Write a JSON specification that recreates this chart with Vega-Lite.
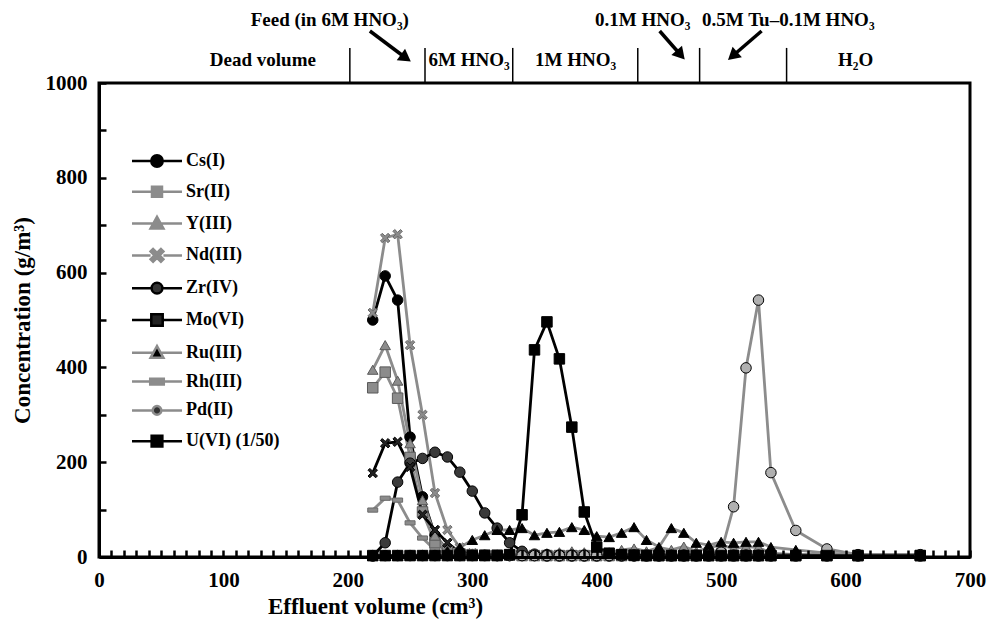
{
  "$schema": "https://vega.github.io/schema/vega-lite/v6.json",
  "width": 871,
  "height": 474,
  "autosize": {"type": "none"},
  "padding": {"left": 99, "top": 83, "right": 19, "bottom": 70},
  "background": "white",
  "config": {
    "font": "Liberation Serif",
    "view": {"stroke": "black", "strokeWidth": 3},
    "axis": {
      "grid": false, "domainColor": "black", "domainWidth": 3,
      "tickColor": "black", "tickWidth": 2.5,
      "labelFont": "Liberation Serif", "labelFontWeight": "bold", "labelFontSize": 21, "labelColor": "black",
      "titleFont": "Liberation Serif", "titleFontWeight": "bold", "titleFontSize": 23, "titleColor": "black"
    },
    "legend": {
      "orient": "none", "legendX": 49, "legendY": 69, "padding": 0,
      "symbolSize": 204, "symbolStrokeWidth": 2.5, "symbolOpacity": 1,
      "labelFont": "Liberation Serif", "labelFontWeight": "bold", "labelFontSize": 18, "labelColor": "black",
      "labelOffset": 20, "rowPadding": 9.8, "title": null
    }
  },
  "datasets": {
    "main": [
      {"x":220,"Cs(I)":500,"Sr(II)":357,"Y(III)":395,"Nd(III)":515,"Zr(IV)":2,"Mo(VI)":177,"Ru(III)":2,"Rh(III)":99,"Pd(II)":3,"U(VI)  (1/50)":3},
      {"x":230,"Cs(I)":593,"Sr(II)":390,"Y(III)":447,"Nd(III)":673,"Zr(IV)":30,"Mo(VI)":240,"Ru(III)":2,"Rh(III)":124,"Pd(II)":3,"U(VI)  (1/50)":3},
      {"x":240,"Cs(I)":542,"Sr(II)":335,"Y(III)":372,"Nd(III)":681,"Zr(IV)":158,"Mo(VI)":243,"Ru(III)":2,"Rh(III)":120,"Pd(II)":3,"U(VI)  (1/50)":3},
      {"x":250,"Cs(I)":253,"Sr(II)":210,"Y(III)":240,"Nd(III)":447,"Zr(IV)":198,"Mo(VI)":190,"Ru(III)":3,"Rh(III)":72,"Pd(II)":3,"U(VI)  (1/50)":3},
      {"x":260,"Cs(I)":127,"Sr(II)":95,"Y(III)":120,"Nd(III)":300,"Zr(IV)":208,"Mo(VI)":89,"Ru(III)":5,"Rh(III)":40,"Pd(II)":3,"U(VI)  (1/50)":3},
      {"x":270,"Cs(I)":46,"Sr(II)":30,"Y(III)":45,"Nd(III)":135,"Zr(IV)":221,"Mo(VI)":57,"Ru(III)":8,"Rh(III)":15,"Pd(II)":3,"U(VI)  (1/50)":3},
      {"x":280,"Cs(I)":15,"Sr(II)":12,"Y(III)":15,"Nd(III)":57,"Zr(IV)":211,"Mo(VI)":30,"Ru(III)":12,"Rh(III)":8,"Pd(II)":3,"U(VI)  (1/50)":3},
      {"x":290,"Cs(I)":8,"Sr(II)":6,"Y(III)":8,"Nd(III)":20,"Zr(IV)":179,"Mo(VI)":10,"Ru(III)":20,"Rh(III)":5,"Pd(II)":3,"U(VI)  (1/50)":3},
      {"x":300,"Cs(I)":5,"Sr(II)":5,"Y(III)":6,"Nd(III)":8,"Zr(IV)":139,"Mo(VI)":5,"Ru(III)":36,"Rh(III)":4,"Pd(II)":3,"U(VI)  (1/50)":3},
      {"x":310,"Cs(I)":4,"Sr(II)":4,"Y(III)":5,"Nd(III)":5,"Zr(IV)":93,"Mo(VI)":4,"Ru(III)":46,"Rh(III)":4,"Pd(II)":3,"U(VI)  (1/50)":3},
      {"x":320,"Cs(I)":3,"Sr(II)":4,"Y(III)":5,"Nd(III)":4,"Zr(IV)":61,"Mo(VI)":4,"Ru(III)":57,"Rh(III)":3,"Pd(II)":3,"U(VI)  (1/50)":3},
      {"x":330,"Cs(I)":3,"Sr(II)":4,"Y(III)":5,"Nd(III)":4,"Zr(IV)":30,"Mo(VI)":3,"Ru(III)":57,"Rh(III)":3,"Pd(II)":3,"U(VI)  (1/50)":5},
      {"x":340,"Cs(I)":3,"Sr(II)":3,"Y(III)":5,"Nd(III)":4,"Zr(IV)":12,"Mo(VI)":3,"Ru(III)":61,"Rh(III)":3,"Pd(II)":3,"U(VI)  (1/50)":89},
      {"x":350,"Cs(I)":3,"Sr(II)":3,"Y(III)":6,"Nd(III)":4,"Zr(IV)":6,"Mo(VI)":3,"Ru(III)":46,"Rh(III)":3,"Pd(II)":3,"U(VI)  (1/50)":437},
      {"x":360,"Cs(I)":2,"Sr(II)":3,"Y(III)":8,"Nd(III)":4,"Zr(IV)":5,"Mo(VI)":3,"Ru(III)":51,"Rh(III)":3,"Pd(II)":3,"U(VI)  (1/50)":496},
      {"x":370,"Cs(I)":2,"Sr(II)":3,"Y(III)":10,"Nd(III)":4,"Zr(IV)":4,"Mo(VI)":3,"Ru(III)":53,"Rh(III)":3,"Pd(II)":3,"U(VI)  (1/50)":418},
      {"x":380,"Cs(I)":2,"Sr(II)":3,"Y(III)":12,"Nd(III)":4,"Zr(IV)":4,"Mo(VI)":3,"Ru(III)":63,"Rh(III)":3,"Pd(II)":3,"U(VI)  (1/50)":274},
      {"x":390,"Cs(I)":2,"Sr(II)":3,"Y(III)":10,"Nd(III)":4,"Zr(IV)":4,"Mo(VI)":3,"Ru(III)":57,"Rh(III)":3,"Pd(II)":3,"U(VI)  (1/50)":95},
      {"x":400,"Cs(I)":2,"Sr(II)":3,"Y(III)":14,"Nd(III)":4,"Zr(IV)":4,"Mo(VI)":3,"Ru(III)":44,"Rh(III)":3,"Pd(II)":3,"U(VI)  (1/50)":21},
      {"x":410,"Cs(I)":2,"Sr(II)":3,"Y(III)":10,"Nd(III)":4,"Zr(IV)":4,"Mo(VI)":3,"Ru(III)":42,"Rh(III)":3,"Pd(II)":3,"U(VI)  (1/50)":8},
      {"x":420,"Cs(I)":2,"Sr(II)":3,"Y(III)":15,"Nd(III)":4,"Zr(IV)":4,"Mo(VI)":3,"Ru(III)":51,"Rh(III)":3,"Pd(II)":3,"U(VI)  (1/50)":5},
      {"x":430,"Cs(I)":2,"Sr(II)":3,"Y(III)":18,"Nd(III)":4,"Zr(IV)":4,"Mo(VI)":3,"Ru(III)":63,"Rh(III)":3,"Pd(II)":3,"U(VI)  (1/50)":4},
      {"x":440,"Cs(I)":2,"Sr(II)":3,"Y(III)":12,"Nd(III)":4,"Zr(IV)":4,"Mo(VI)":3,"Ru(III)":36,"Rh(III)":3,"Pd(II)":3,"U(VI)  (1/50)":3},
      {"x":450,"Cs(I)":2,"Sr(II)":3,"Y(III)":20,"Nd(III)":4,"Zr(IV)":4,"Mo(VI)":3,"Ru(III)":21,"Rh(III)":3,"Pd(II)":3,"U(VI)  (1/50)":3},
      {"x":460,"Cs(I)":2,"Sr(II)":3,"Y(III)":15,"Nd(III)":4,"Zr(IV)":4,"Mo(VI)":3,"Ru(III)":61,"Rh(III)":3,"Pd(II)":3,"U(VI)  (1/50)":3},
      {"x":470,"Cs(I)":2,"Sr(II)":3,"Y(III)":22,"Nd(III)":4,"Zr(IV)":4,"Mo(VI)":3,"Ru(III)":51,"Rh(III)":3,"Pd(II)":3,"U(VI)  (1/50)":3},
      {"x":480,"Cs(I)":2,"Sr(II)":3,"Y(III)":12,"Nd(III)":4,"Zr(IV)":4,"Mo(VI)":3,"Ru(III)":30,"Rh(III)":3,"Pd(II)":3,"U(VI)  (1/50)":3},
      {"x":490,"Cs(I)":2,"Sr(II)":3,"Y(III)":20,"Nd(III)":4,"Zr(IV)":4,"Mo(VI)":3,"Ru(III)":25,"Rh(III)":3,"Pd(II)":5,"U(VI)  (1/50)":3},
      {"x":500,"Cs(I)":2,"Sr(II)":3,"Y(III)":25,"Nd(III)":4,"Zr(IV)":4,"Mo(VI)":3,"Ru(III)":32,"Rh(III)":3,"Pd(II)":10,"U(VI)  (1/50)":3},
      {"x":510,"Cs(I)":2,"Sr(II)":3,"Y(III)":18,"Nd(III)":4,"Zr(IV)":4,"Mo(VI)":3,"Ru(III)":30,"Rh(III)":3,"Pd(II)":106,"U(VI)  (1/50)":3},
      {"x":520,"Cs(I)":2,"Sr(II)":3,"Y(III)":22,"Nd(III)":4,"Zr(IV)":4,"Mo(VI)":3,"Ru(III)":32,"Rh(III)":3,"Pd(II)":399,"U(VI)  (1/50)":3},
      {"x":530,"Cs(I)":2,"Sr(II)":3,"Y(III)":20,"Nd(III)":4,"Zr(IV)":4,"Mo(VI)":3,"Ru(III)":32,"Rh(III)":3,"Pd(II)":542,"U(VI)  (1/50)":3},
      {"x":540,"Cs(I)":2,"Sr(II)":3,"Y(III)":8,"Nd(III)":4,"Zr(IV)":4,"Mo(VI)":3,"Ru(III)":21,"Rh(III)":3,"Pd(II)":178,"U(VI)  (1/50)":3},
      {"x":560,"Cs(I)":2,"Sr(II)":3,"Y(III)":5,"Nd(III)":4,"Zr(IV)":4,"Mo(VI)":3,"Ru(III)":15,"Rh(III)":3,"Pd(II)":56,"U(VI)  (1/50)":3},
      {"x":585,"Cs(I)":2,"Sr(II)":3,"Y(III)":4,"Nd(III)":4,"Zr(IV)":4,"Mo(VI)":3,"Ru(III)":8,"Rh(III)":3,"Pd(II)":17,"U(VI)  (1/50)":3},
      {"x":610,"Cs(I)":2,"Sr(II)":3,"Y(III)":4,"Nd(III)":4,"Zr(IV)":4,"Mo(VI)":3,"Ru(III)":5,"Rh(III)":3,"Pd(II)":5,"U(VI)  (1/50)":3},
      {"x":660,"Cs(I)":2,"Sr(II)":3,"Y(III)":4,"Nd(III)":4,"Zr(IV)":4,"Mo(VI)":3,"Ru(III)":5,"Rh(III)":3,"Pd(II)":5,"U(VI)  (1/50)":3}
    ],
    "dividers": [{"x":201.6,"c":1000,"c2":1074},{"x":262,"c":1000,"c2":1074},{"x":332.5,"c":1000,"c2":1074},{"x":433,"c":1000,"c2":1074},{"x":482.7,"c":1000,"c2":1074},{"x":552.6,"c":1000,"c2":1074}],
    "arrows": [
      {"x":217.7,"c":1109.7,"x2":246.6,"c2":1052.7},
      {"x":450.6,"c":1109.7,"x2":467.5,"c2":1059.1},
      {"x":532.5,"c":1109.7,"x2":509.2,"c2":1057}
    ],
    "heads": [
      {"id":"a1","x":246.6,"c":1052.7},
      {"id":"a2","x":467.5,"c":1059.1},
      {"id":"a3","x":509.2,"c":1057}
    ],
    "labels": [
      {"x":185.5,"c":1133,"t":"Feed (in 6M HNO₃)"},
      {"x":437,"c":1133,"t":"0.1M HNO₃"},
      {"x":554,"c":1133,"t":"0.5M Tu–0.1M HNO₃"},
      {"x":131.7,"c":1048,"t":"Dead volume"},
      {"x":297.5,"c":1048,"t":"6M HNO₃"},
      {"x":383,"c":1048,"t":"1M HNO₃"},
      {"x":608,"c":1048,"t":"H₂O"}
    ]
  },
  "encoding": {
    "x": {"field": "x", "type": "quantitative", "scale": {"domain": [0, 700], "nice": false},
      "axis": {"title": "Effluent volume  (cm³)", "values": [0,10,20,30,40,50,60,70,80,90,100,110,120,130,140,150,160,170,180,190,200,210,220,230,240,250,260,270,280,290,300,310,320,330,340,350,360,370,380,390,400,410,420,430,440,450,460,470,480,490,500,510,520,530,540,550,560,570,580,590,600,610,620,630,640,650,660,670,680,690,700],
        "format": "d", "labelExpr": "datum.value % 100 === 0 ? datum.label : ''",
        "ticks": true, "tickSize": -7, "labelPadding": 19, "labelOverlap": false, "labelFlush": false,
        "titleX": 276, "titlePadding": 5, "zindex": 1}},
    "y": {"field": "c", "type": "quantitative", "scale": {"domain": [0, 1000], "nice": false},
      "axis": {"title": "Concentration  (g/m³)", "values": [0,100,200,300,400,500,600,700,800,900,1000],
        "format": "d", "labelExpr": "datum.value % 200 === 0 ? datum.label : ''",
        "ticks": true, "tickSize": -7, "labelPadding": 19, "labelOverlap": false, "labelFlush": false,
        "titlePadding": 11, "zindex": 1}}
  },
  "resolve": {"scale": {"shape": "independent", "fill": "independent", "stroke": "independent"}},
  "layer": [
    {
      "data": {"name": "main"},
      "transform": [{"fold": ["Cs(I)","Sr(II)","Y(III)","Nd(III)","Zr(IV)","Mo(VI)","Ru(III)","Rh(III)","Pd(II)","U(VI)  (1/50)"], "as": ["s","c"]}],
      "mark": {"type": "line", "strokeWidth": 2.8},
      "encoding": {
        "stroke": {"field": "s", "type": "nominal", "legend": null,
          "scale": {"domain": ["Cs(I)","Sr(II)","Y(III)","Nd(III)","Zr(IV)","Mo(VI)","Ru(III)","Rh(III)","Pd(II)","U(VI)  (1/50)"],
            "range": ["#000000","#8c8c8c","#8c8c8c","#8c8c8c","#000000","#000000","#8c8c8c","#8c8c8c","#8c8c8c","#000000"]}}
      }
    },
    {
      "data": {"name": "main"},
      "transform": [{"fold": ["Cs(I)","Sr(II)","Y(III)","Nd(III)","Zr(IV)","Mo(VI)","Ru(III)","Rh(III)","Pd(II)","U(VI)  (1/50)"], "as": ["s","c"]}],
      "mark": {"type": "point", "size": 110, "opacity": 1},
      "encoding": {
        "shape": {"field": "s", "type": "nominal", "legend": null,
          "scale": {"domain": ["Cs(I)","Sr(II)","Y(III)","Nd(III)","Zr(IV)","Mo(VI)","Ru(III)","Rh(III)","Pd(II)","U(VI)  (1/50)"],
            "range": ["circle","square","triangle-up",
              "M-0.9,-0.55L-0.55,-0.9L0,-0.35L0.55,-0.9L0.9,-0.55L0.35,0L0.9,0.55L0.55,0.9L0,0.35L-0.55,0.9L-0.9,0.55L-0.35,0Z",
              "circle",
              "M-0.9,-0.55L-0.55,-0.9L0,-0.35L0.55,-0.9L0.9,-0.55L0.35,0L0.9,0.55L0.55,0.9L0,0.35L-0.55,0.9L-0.9,0.55L-0.35,0Z",
              "triangle-up",
              "M-0.95,-0.4H0.95V0.4H-0.95Z",
              "circle","square"]}},
        "fill": {"field": "s", "type": "nominal", "legend": null,
          "scale": {"domain": ["Cs(I)","Sr(II)","Y(III)","Nd(III)","Zr(IV)","Mo(VI)","Ru(III)","Rh(III)","Pd(II)","U(VI)  (1/50)"],
            "range": ["#000000","#8c8c8c","#8c8c8c","#8c8c8c","#3a3a3a","#222222","#000000","#8c8c8c","#b0b0b0","#000000"]}},
        "stroke": {"field": "s", "type": "nominal", "legend": null,
          "scale": {"domain": ["Cs(I)","Sr(II)","Y(III)","Nd(III)","Zr(IV)","Mo(VI)","Ru(III)","Rh(III)","Pd(II)","U(VI)  (1/50)"],
            "range": ["#000000","#5a5a5a","#5a5a5a","#6a6a6a","#000000","#000000","#000000","#6a6a6a","#000000","#000000"]}},
        "strokeWidth": {"field": "s", "type": "nominal", "legend": null,
          "scale": {"domain": ["Cs(I)","Sr(II)","Y(III)","Nd(III)","Zr(IV)","Mo(VI)","Ru(III)","Rh(III)","Pd(II)","U(VI)  (1/50)"],
            "range": [1,1,1,1,1,1,1,1,2.5,1]}}
      }
    },
    {
      "data": {"name": "main"},
      "transform": [{"fold": ["Cs(I)","Sr(II)","Y(III)","Nd(III)","Zr(IV)","Mo(VI)","Ru(III)","Rh(III)","Pd(II)","U(VI)  (1/50)"], "as": ["s","c"]}, {"filter": "false"}],
      "mark": {"type": "point"},
      "encoding": {
        "shape": {"field": "s", "type": "nominal",
          "scale": {"domain": ["Cs(I)","Sr(II)","Y(III)","Nd(III)","Zr(IV)","Mo(VI)","Ru(III)","Rh(III)","Pd(II)","U(VI)  (1/50)"],
            "range": [
              "M-3.5,0H-0.8M0.8,0H3.5M-0.8,0A0.8,0.8,0,1,1,0.8,0A0.8,0.8,0,1,1,-0.8,0Z",
              "M-3.5,0H-0.7M0.7,0H3.5M-0.7,-0.7H0.7V0.7H-0.7Z",
              "M-3.5,0H-0.6M0.6,0H3.5M0,-0.95L0.9,0.7H-0.9Z",
              "M-3.5,0H-0.9M0.9,0H3.5M-0.9,-0.55L-0.55,-0.9L0,-0.35L0.55,-0.9L0.9,-0.55L0.35,0L0.9,0.55L0.55,0.9L0,0.35L-0.55,0.9L-0.9,0.55L-0.35,0Z",
              "M-3.5,0H-0.75M0.75,0H3.5M-0.75,0A0.75,0.75,0,1,1,0.75,0A0.75,0.75,0,1,1,-0.75,0Z",
              "M-3.5,0H-0.8M0.8,0H3.5M-0.8,-0.8H0.8V0.8H-0.8Z",
              "M-3.5,0H-0.6M0.6,0H3.5M0,-0.95L0.9,0.7H-0.9Z",
              "M-3.5,0H-0.95M0.95,0H3.5M-0.95,-0.4H0.95V0.4H-0.95Z",
              "M-3.5,0H-0.6M0.6,0H3.5M-0.6,0A0.6,0.6,0,1,1,0.6,0A0.6,0.6,0,1,1,-0.6,0Z",
              "M-3.5,0H-0.75M0.75,0H3.5M-0.75,-0.75H0.75V0.75H-0.75Z"]}},
        "fill": {"field": "s", "type": "nominal",
          "scale": {"domain": ["Cs(I)","Sr(II)","Y(III)","Nd(III)","Zr(IV)","Mo(VI)","Ru(III)","Rh(III)","Pd(II)","U(VI)  (1/50)"],
            "range": ["#000000","#8c8c8c","#8c8c8c","#8c8c8c","#333333","#222222","#000000","#8c8c8c","#333333","#000000"]}},
        "stroke": {"field": "s", "type": "nominal",
          "scale": {"domain": ["Cs(I)","Sr(II)","Y(III)","Nd(III)","Zr(IV)","Mo(VI)","Ru(III)","Rh(III)","Pd(II)","U(VI)  (1/50)"],
            "range": ["#000000","#8c8c8c","#8c8c8c","#8c8c8c","#000000","#000000","#8c8c8c","#8c8c8c","#8c8c8c","#000000"]}}
      }
    },
    {
      "data": {"name": "dividers"},
      "mark": {"type": "rule", "strokeWidth": 1.5, "color": "black"},
      "encoding": {"y2": {"field": "c2"}}
    },
    {
      "data": {"name": "arrows"},
      "mark": {"type": "rule", "strokeWidth": 3.5, "color": "black"},
      "encoding": {"x2": {"field": "x2"}, "y2": {"field": "c2"}}
    },
    {
      "data": {"name": "heads"},
      "transform": [{"filter": "datum.id === 'a1'"}],
      "mark": {"type": "point", "shape": "triangle-up", "filled": true, "color": "black", "opacity": 1, "size": 200, "angle": 126},
      "encoding": {}
    },
    {
      "data": {"name": "heads"},
      "transform": [{"filter": "datum.id === 'a2'"}],
      "mark": {"type": "point", "shape": "triangle-up", "filled": true, "color": "black", "opacity": 1, "size": 200, "angle": 139},
      "encoding": {}
    },
    {
      "data": {"name": "heads"},
      "transform": [{"filter": "datum.id === 'a3'"}],
      "mark": {"type": "point", "shape": "triangle-up", "filled": true, "color": "black", "opacity": 1, "size": 200, "angle": 229},
      "encoding": {}
    },
    {
      "data": {"name": "labels"},
      "mark": {"type": "text", "font": "Liberation Serif", "fontWeight": "bold", "fontSize": 19, "color": "black", "align": "center", "baseline": "middle"},
      "encoding": {"text": {"field": "t"}}
    }
  ]
}
